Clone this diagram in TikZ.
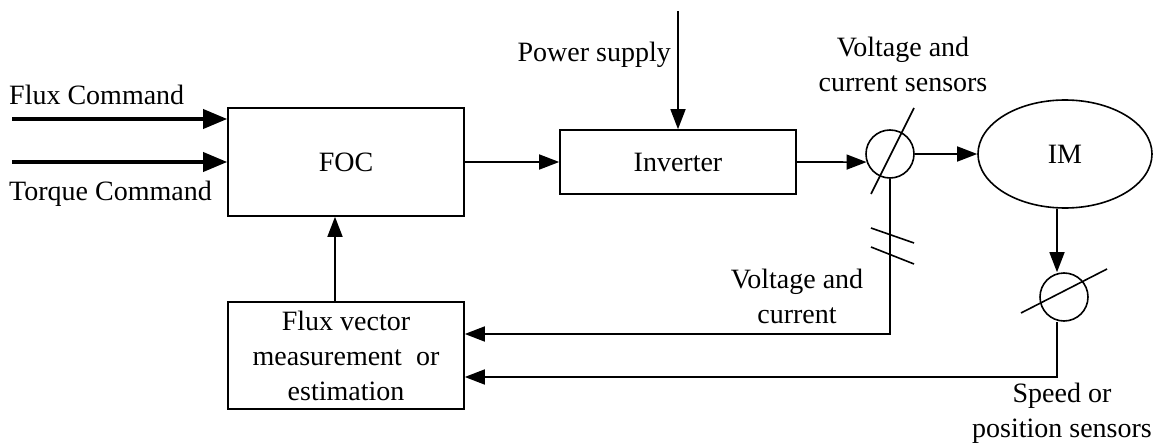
\documentclass[tikz,border=0pt]{standalone}
\usepackage{fontspec}
\setmainfont{Liberation Serif}
\usetikzlibrary{arrows.meta,shapes.geometric,calc}
\begin{document}
\begin{tikzpicture}[x=1pt,y=-1pt,
  font=\fontsize{28}{35}\selectfont,
  thin line/.style={line width=1.6pt},
  arr/.style={thin line,-{Triangle[length=20pt,width=15pt]}},
  thickarr/.style={line width=3.6pt,-{Triangle[length=24pt,width=19pt]}},
  blockbox/.style={draw,thin line,rectangle,inner sep=0pt,align=center},
  sensor/.style={draw,thin line,circle,minimum size=48pt,inner sep=0pt},
  lbl/.style={inner sep=0pt,align=center}]
\useasboundingbox (0,0) rectangle (1163,444);

% blocks
\node[blockbox,minimum width=236pt,minimum height=108pt] (foc) at (346,162) {FOC};
\node[blockbox,minimum width=236pt,minimum height=64pt] (inv) at (678,162) {Inverter};
\node[sensor] (s1) at (890,154) {};
\node[draw,thin line,ellipse,minimum width=174pt,minimum height=108pt,inner sep=0pt] (im) at (1065,154) {IM};
\node[sensor] (s2) at (1064,297) {};
\node[blockbox,minimum width=236pt,minimum height=107pt] (flux) at (346,355.5)
  {Flux vector\\measurement~~or\\estimation};

% inputs
\coordinate (fc) at (12,119);
\coordinate (tc) at (12,162);
\draw[thickarr] (fc) -- (fc -| foc.west);
\draw[thickarr] (tc) -- (tc -| foc.west);
\node[lbl,anchor=base west] (fcl) at (9,105) {Flux Command};
\node[lbl,anchor=base west] (tcl) at (9,200) {Torque Command};

% forward path
\draw[arr] (foc.east) -- (inv.west);
\coordinate (ps) at (678,11);
\draw[arr] (ps) -- (inv.north);
\node[lbl,anchor=base east] (psl) at (671,62) {Power supply};
\draw[arr] (inv.east) -- (s1.199.5);
\draw[arr] (s1.east) -- (im.west);
\draw[thin line] ($(s1)+(-19,40)$) -- ($(s1)+(24,-46)$);
\node[lbl,anchor=base] (s1l) at (903,92) {Voltage and\\current sensors};

% speed sensor
\draw[arr] ($(im.south)+(-8,0)$) -- ($(s2.north)+(-7,0)$);
\draw[thin line] ($(s2)+(-43,16)$) -- ($(s2)+(43,-28)$);
\node[lbl,anchor=base] (s2l) at (1062,437) {Speed or\\position sensors};

% feedback
\draw[arr] (s1.south) |- ($(flux.east)+(0,-21.5)$);
\draw[thin line] ($(s1)+(-19,74)$) -- ($(s1)+(24,89)$);
\draw[thin line] ($(s1)+(-19,93)$) -- ($(s1)+(24,110)$);
\node[lbl,anchor=base] (vcl) at (797,323) {Voltage and\\current};
\draw[arr] ($(s2.south)+(-7,0)$) |- ($(flux.east)+(0,21.5)$);
\draw[arr] ($(flux.north)+(-11,0)$) -- ($(foc.south)+(-11,0)$);
\end{tikzpicture}
\end{document}
